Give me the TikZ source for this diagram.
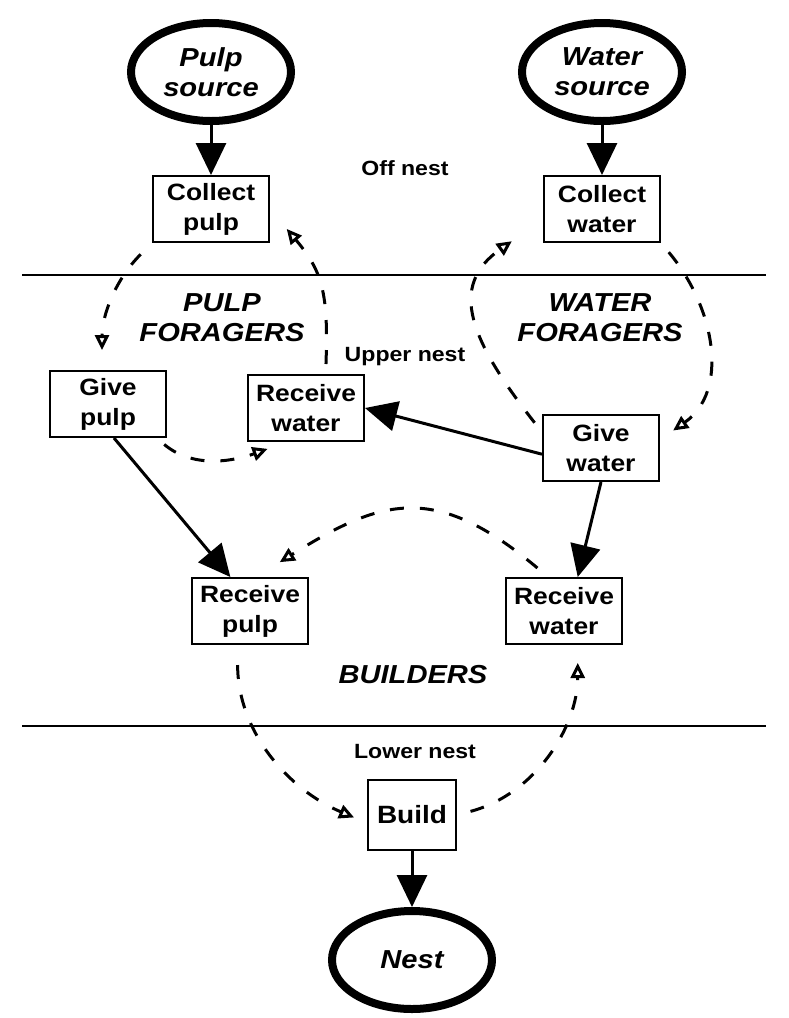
\documentclass[tikz,border=0pt]{standalone}
\usepackage{fontspec}
\setmainfont{Liberation Sans}[FakeStretch=1.12]
\usetikzlibrary{arrows.meta,positioning,calc,shapes.geometric}

\begin{document}
\begin{tikzpicture}[x=0.5pt,y=-0.5pt,font=\bfseries,
  box/.style={draw,line width=1pt,minimum width=58pt,minimum height=33pt,inner sep=1pt,align=center,font=\fontsize{11.8}{15}\selectfont\bfseries},
  src/.style={draw,ellipse,line width=4pt,minimum width=80pt,minimum height=49pt,inner sep=0pt,align=center,font=\fontsize{13}{15}\selectfont\bfseries\itshape},
  grp/.style={align=center,font=\fontsize{13}{15}\selectfont\bfseries\itshape},
  lvl/.style={font=\fontsize{10.3}{12}\selectfont\bfseries},
  flow/.style={line width=1.5pt,-{Triangle[length=16pt,width=15pt]}},
  cyc/.style={line width=1.5pt,dash pattern=on 7pt off 8pt,-{Triangle[open,length=7.5pt,width=7pt]}}]
\useasboundingbox (0,0) rectangle (788,1018);
% sources and collecting
\node[src] (psrc) at (211,72) {Pulp\\source};
\node[src] (wsrc) at (602,72) {Water\\source};
\node[box] (cpulp) at (211,209) {Collect\\pulp};
\node[box] (cwater) at (602,209) {Collect\\water};
\node[lvl] (offn) at (405,168) {Off nest};
% foragers
\node[grp] (pfor) at (222,318) {PULP\\FORAGERS};
\node[grp] (wfor) at (600,318) {WATER\\FORAGERS};
\node[lvl] (upn) at (405,357) {Upper nest};
\node[box] (gpulp) at (108,404) {Give\\pulp};
\node[box] (rwup) at (306,408) {Receive\\water};
\node[box] (gwater) at (601,448) {Give\\water};
% builders
\node[box] (rpulp) at (250,611) {Receive\\pulp};
\node[box] (rwlow) at (564,611) {Receive\\water};
\node[grp] (bldr) at (413,675) {BUILDERS};
\node[lvl] (lown) at (415,752) {Lower nest};
\node[box,minimum width=44pt,minimum height=35pt,font=\fontsize{12.5}{15}\selectfont\bfseries] (build) at (412,815) {Build};
\node[src] (nest) at (412,960) {Nest};
% nest levels
\coordinate (l1a) at (22,275); \coordinate (l1b) at (766,275);
\coordinate (l2a) at (22,726); \coordinate (l2b) at (766,726);
\draw[line width=1.2pt] (l1a) -- (l1b);
\draw[line width=1.2pt] (l2a) -- (l2b);
% material flow
\draw[flow] (psrc.south) -- (cpulp.north);
\draw[flow] (wsrc.south) -- (cwater.north);
\draw[flow] (gpulp.-80) -- (rpulp.120);
\draw[flow] (gwater.186) -- (rwup.east);
\draw[flow] (gwater.south) -- (rwlow.68);
\draw[flow] (build.south) -- (nest.north);
% task cycles
\draw[cyc,shorten <=8pt,shorten >=10pt] (cpulp.south west) to[out=-135,in=90] (gpulp.100);
\draw[cyc,shorten <=5pt,shorten >=10pt] (gpulp.-35) to[out=-40,in=200] (rwup.-120);
\draw[cyc,shorten <=5pt,shorten >=13pt] (rwup.60) to[out=88,in=-50,looseness=1.2] (cpulp.east);
\draw[cyc,shorten <=6pt,shorten >=8pt] (cwater.south east) to[out=-50,in=35,looseness=1.1] (gwater.8);
\draw[cyc,shorten <=6pt,shorten >=19pt] (gwater.165) to[out=128,in=215,looseness=1.4] (cwater.190);
\draw[cyc,shorten <=7pt,shorten >=14pt] (rwlow.115) to[out=140,in=32,looseness=1.3] (rpulp.80);
\draw[cyc,shorten <=10pt,shorten >=7pt] (rpulp.-110) to[out=-90,in=157] (build.190);
\draw[cyc,shorten <=7pt,shorten >=9pt] (build.east) to[out=15,in=-90] (rwlow.-68);
\end{tikzpicture}
\end{document}
